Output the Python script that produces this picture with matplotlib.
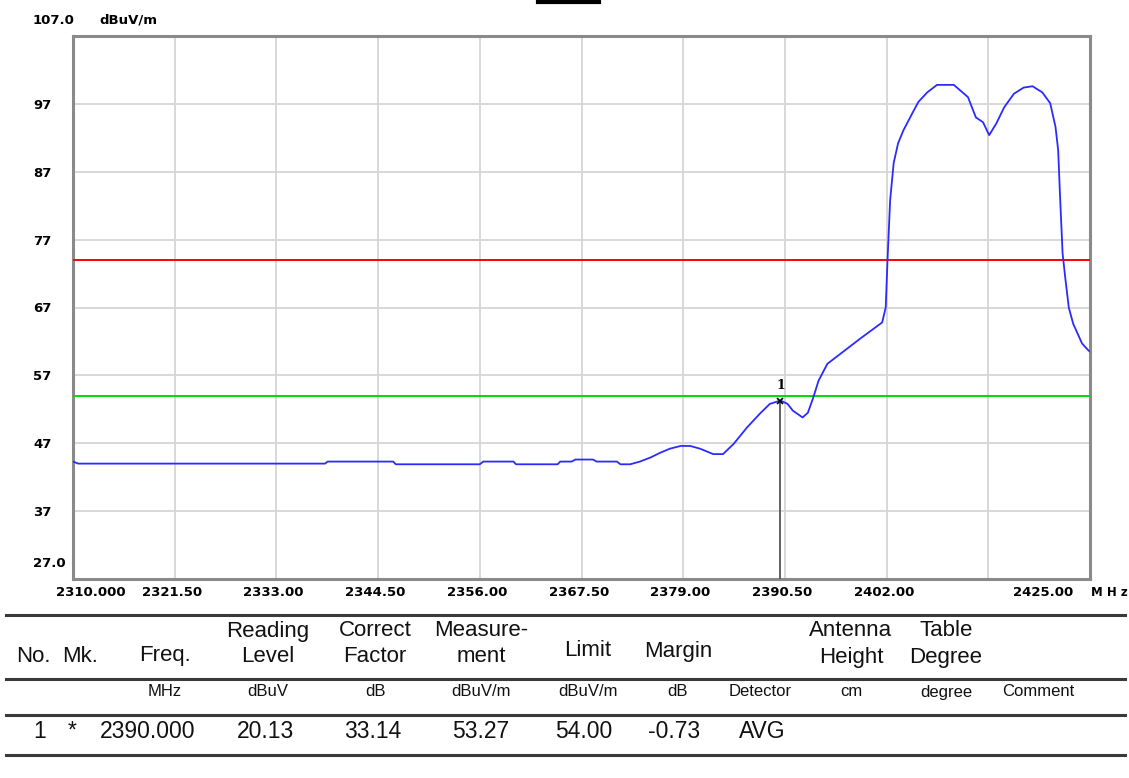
import numpy as np
import matplotlib
matplotlib.use("Agg")
import matplotlib.pyplot as plt

# ---- trace (MHz, dBuV/m)
freq_mhz = [2310.0, 2310.6, 2338.5, 2338.8, 2346.2, 2346.5, 2356.0, 2356.4,
            2359.8, 2360.1, 2364.8, 2365.1, 2366.4, 2366.8, 2368.8, 2369.2,
            2371.5, 2371.9, 2373.0, 2374.1, 2375.3, 2376.4, 2377.5, 2378.7,
            2379.8, 2380.9, 2382.4, 2383.5, 2384.7, 2386.2, 2387.7, 2388.8,
            2390.0, 2390.8, 2391.4, 2392.5, 2393.1, 2393.7, 2394.3, 2395.3,
            2396.8, 2399.0, 2401.5, 2401.9, 2402.1, 2402.4, 2402.8, 2403.3,
            2403.9, 2404.9, 2405.6, 2406.6, 2407.7, 2409.6, 2411.2, 2412.1,
            2412.9, 2413.6, 2414.4, 2415.3, 2416.4, 2417.5, 2418.5, 2419.6,
            2420.5, 2421.1, 2421.4, 2421.6, 2421.9, 2422.2, 2422.6, 2423.1,
            2424.1, 2424.8, 2425.0]
level_dbuv = [44.3, 44.0, 44.0, 44.3, 44.3, 43.9, 43.9, 44.3,
              44.3, 43.9, 43.9, 44.3, 44.3, 44.6, 44.6, 44.3,
              44.3, 43.9, 43.9, 44.3, 44.9, 45.6, 46.2, 46.6,
              46.6, 46.2, 45.4, 45.4, 46.9, 49.3, 51.4, 52.8,
              53.3, 52.8, 51.8, 50.8, 51.5, 53.7, 56.2, 58.7,
              60.2, 62.4, 64.8, 67.0, 73.9, 82.8, 88.3, 91.2,
              93.1, 95.6, 97.3, 98.7, 99.8, 99.8, 98.0, 95.0,
              94.3, 92.4, 94.1, 96.5, 98.5, 99.4, 99.6, 98.7,
              97.1, 93.6, 90.2, 83.8, 75.0, 71.4, 67.0, 64.6,
              61.7, 60.7, 60.5]

limit_peak = 74.0
limit_avg = 54.0
marker_freq = 2390.0
marker_level = 53.27

x_ticks = [2310.0, 2321.5, 2333.0, 2344.5, 2356.0, 2367.5, 2379.0, 2390.5,
           2402.0, 2413.5, 2425.0]
x_labels = ["2310.000", "2321.50", "2333.00", "2344.50", "2356.00", "2367.50",
            "2379.00", "2390.50", "2402.00", "", "2425.00"]
y_ticks = [37, 47, 57, 67, 77, 87, 97]

# ---- result table
head_top = ["", "", "", "Reading", "Correct", "Measure-", "", "", "", "Antenna", "Table", ""]
head_bot = ["No.", "Mk.", "Freq.", "Level", "Factor", "ment", "Limit", "Margin", "", "Height", "Degree", ""]
units = ["", "", "MHz", "dBuV", "dB", "dBuV/m", "dBuV/m", "dB", "Detector", "cm", "degree", "Comment"]
row1 = ["1", "*", "2390.000", "20.13", "33.14", "53.27", "54.00", "-0.73", "AVG", "", "", ""]
col_x = [33, 80, 165, 268, 375, 481, 588, 678, 760, 851, 946, 1038]

W, H = 1129, 778
fig = plt.figure(figsize=(W / 100, H / 100), dpi=100)
ax = fig.add_axes([73 / W, (H - 579) / H, (1090 - 73) / W, (579 - 36) / H])

ax.plot(freq_mhz, level_dbuv, color="#2b2bff", lw=1.3, zorder=4)
ax.axhline(limit_peak, color="#ff0000", lw=1.4, zorder=3)
ax.axhline(limit_avg, color="#00dd00", lw=1.4, zorder=3)
ax.vlines(marker_freq, 27, marker_level, color="#555555", lw=1.3, zorder=3)
ax.plot([marker_freq], [marker_level], marker="x", color="black", ms=5, mew=1.2, zorder=5)
ax.annotate("1", xy=(marker_freq, marker_level), xytext=(0, 6), textcoords="offset points",
            ha="center", va="bottom", fontsize=9, fontweight="bold", family="DejaVu Serif")

ax.set_xlim(2310, 2425)
ax.set_ylim(27, 107)
ax.set_xticks(x_ticks)
ax.set_xticklabels([])
ax.set_yticks(y_ticks)
ax.set_yticklabels([str(v) for v in y_ticks], fontsize=9.5, fontweight="bold")
for lbl in ax.get_yticklabels():
    lbl.set_horizontalalignment("left")
ax.tick_params(axis="y", length=0, pad=28.8)
ax.tick_params(axis="x", length=0)
ax.grid(True, color="#d6d6d6", lw=1.3)
ax.set_axisbelow(True)
for sp in ax.spines.values():
    sp.set_color("#8a8a8a")
    sp.set_linewidth(2.2)

# x labels, first one sits right of the axis start, last one left of the end
shift = {0: 13, len(x_ticks) - 1: -34}
for i, (t, s) in enumerate(zip(x_ticks, x_labels)):
    if not s:
        continue
    ax.annotate(s, xy=(t, 0), xycoords=("data", "axes fraction"), xytext=(shift.get(i, -2), -9.5),
                textcoords="offset points", ha="center", va="center", fontsize=9.5, fontweight="bold")
ax.annotate("M H z", xy=(1, 0), xycoords="axes fraction", xytext=(1, -9.5), textcoords="offset points",
            ha="left", va="center", fontsize=8.5, fontweight="bold")
ax.annotate("107.0", xy=(0, 107), xycoords=("axes fraction", "data"), xytext=(-28.8, 11.5),
            textcoords="offset points", ha="left", va="center", fontsize=9.5, fontweight="bold")
ax.annotate("dBuV/m", xy=(0, 107), xycoords=("axes fraction", "data"), xytext=(19, 11.5),
            textcoords="offset points", ha="left", va="center", fontsize=9.5, fontweight="bold")
ax.annotate("27.0", xy=(0, 27), xycoords=("axes fraction", "data"), xytext=(-28.8, 11),
            textcoords="offset points", ha="left", va="center", fontsize=9.5, fontweight="bold")

# overlay in pixel units for the table below the plot
lay = fig.add_axes([0, 0, 1, 1])
lay.set_xlim(0, W)
lay.set_ylim(H, 0)
lay.axis("off")
lay.plot([538, 599], [1.5, 1.5], color="black", lw=3)
for yy in [615, 679, 715, 755]:
    lay.plot([6, 1125], [yy, yy], color="#3a3a3a", lw=2.2)

tf = dict(family="Liberation Sans", color="#111111", ha="center", va="center")
for x, a, b in zip(col_x, head_top, head_bot):
    if a:
        lay.text(x, 631, a, fontsize=16, **tf)
        lay.text(x, 657, b, fontsize=16, **tf)
    elif b:
        y = 651 if b in ("Limit", "Margin") else 656
        lay.text(x, y, b, fontsize=16, **tf)
for x, u in zip(col_x, units):
    lay.text(x, 692, u, fontsize=12, **tf)
data_x = [40, 72, 148, 266, 373, 481, 584, 674, 762]
for x, v in zip(data_x, row1):
    lay.text(x, 731, v, fontsize=16.5, **tf)

fig.savefig("out.png", dpi=100)
